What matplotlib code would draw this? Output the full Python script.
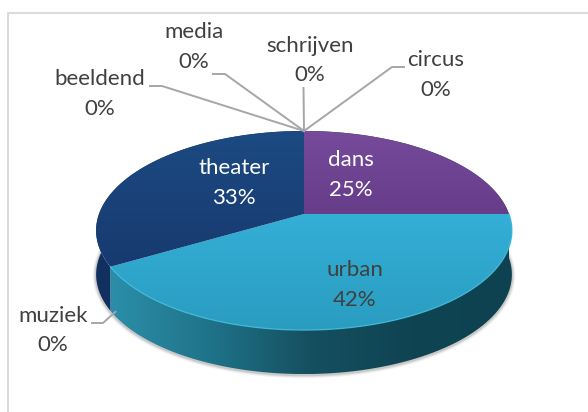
import numpy as np
import matplotlib
matplotlib.use("Agg")
import matplotlib.pyplot as plt
from matplotlib.colors import LinearSegmentedColormap as LSC
from matplotlib.patches import Polygon

# Data (clockwise from 12 o'clock)
categories = ["dans", "urban", "muziek", "theater", "beeldend", "media", "schrijven", "circus"]
counts = [3, 5, 0, 4, 0, 0, 0, 0]

# Styling
plt.rcParams["font.family"] = ["Lato", "DejaVu Sans"]
FS = 16
DARK = "#404040"
CX, CY, RX, A, B, DEPTH = 304.0, 214.0, 205.0, 96.8, 0.166, 44.0

top_grad = {
    "dans": ["#774a9c", "#663d89"],
    "urban": ["#34afd7", "#2a9cc0"],
    "theater": ["#1c4a82", "#173a70"],
}
wall_grad = {
    "dans": ["#0e4250", "#0e4250"],
    "urban": ["#2b8ea9", "#1f7389", "#154f60", "#0f4452", "#0e4250"],
    "theater": ["#12305f", "#14346a"],
}
label_pos = {
    "dans": (351, 160, 190, "white"),
    "urban": (355, 270, 300, DARK),
    "theater": (234, 168, 198, "white"),
    "beeldend": (100, 79, 109, DARK),
    "media": (194, 32, 62, DARK),
    "schrijven": (310, 46, 75, DARK),
    "circus": (436, 60, 90, DARK),
    "muziek": (53, 316, 345, DARK),
}
leaders = {
    "beeldend": [(150, 86), (162, 86)],
    "media": [(213, 74), (225, 74)],
    "schrijven": [(303.5, 88)],
    "circus": [(404, 67), (392, 67)],
}

fig = plt.figure(figsize=(5.88, 4.12), dpi=100)
ax = fig.add_axes([0, 0, 1, 1])
ax.axis("off")


def project(theta):
    """Clockwise angle from top -> perspective pie surface."""
    u, v = np.sin(theta), np.cos(theta)
    d = 1 + B * v
    return CX + RX * u / d, CY - A * v / d


def gradient_fill(xs, ys, colors, horizontal=False):
    poly = Polygon(np.column_stack([xs, ys]), closed=True, transform=ax.transData, fc="none", ec="none")
    ax.add_patch(poly)
    cmap = LSC.from_list("g", colors)
    g = np.linspace(0, 1, 256)
    img = g[None, :] if horizontal else g[:, None]
    extent = (min(xs), max(xs), max(ys), min(ys))
    im = ax.imshow(img, extent=extent, cmap=cmap, aspect="auto", interpolation="bilinear", vmin=0, vmax=1)
    im.set_clip_path(poly)
    return im


total = sum(counts)
edges = np.concatenate([[0], np.cumsum(counts)]) / total * 2 * np.pi

# soft shadow around the base
t = np.linspace(np.radians(70), np.radians(290), 300)
sx, sy = project(t)
for w, a in [(5, 0.06), (3.5, 0.10), (2, 0.18)]:
    ax.plot(sx, sy + DEPTH + 0.8, color="#505050", lw=w, alpha=a, zorder=1, solid_capstyle="round")

# walls
for name, c, a0, a1 in zip(categories, counts, edges[:-1], edges[1:]):
    if c == 0:
        continue
    t = np.linspace(a0, a1, 200)
    x, y = project(t)
    xs = np.r_[x, x[::-1]]
    ys = np.r_[y, y[::-1] + DEPTH]
    im = gradient_fill(xs, ys, wall_grad[name], horizontal=True)
    im.set_zorder(2)

# tops
for name, c, a0, a1 in zip(categories, counts, edges[:-1], edges[1:]):
    if c == 0:
        continue
    t = np.linspace(a0, a1, 200)
    x, y = project(t)
    xs = np.r_[CX, x]
    ys = np.r_[CY, y]
    im = gradient_fill(xs, ys, top_grad[name])
    im.set_zorder(3)
    if name == "urban":
        ax.plot(x, y, color="#3fbbdc", lw=1.0, alpha=0.8, zorder=3.5)

# leader lines
for name, pts in leaders.items():
    p = pts + [(CX, 131)]
    ax.plot(*zip(*p), color="#a6a6a6", lw=1.4, zorder=4, solid_joinstyle="miter")
a_muziek = edges[categories.index("muziek")]
mx, my = project(a_muziek)
ax.plot([92, 103, mx + 5], [323, 323, my + DEPTH + 1], color="#a6a6a6", lw=1.4, zorder=4)

# labels
for name, c in zip(categories, counts):
    x, y1, y2, col = label_pos[name]
    ax.text(x, y1, name, color=col, fontsize=FS, ha="center", va="center", zorder=6)
    ax.text(x, y2, f"{round(100 * c / total)}%", color=col, fontsize=FS, ha="center", va="center", zorder=6)

# chart frame (cropped at right and bottom)
ax.plot([7.5, 7.5, 590], [414, 12.5, 12.5], color="#d9d9d9", lw=1.4, zorder=0)

ax.set_xlim(0, 588)
ax.set_ylim(412, 0)
fig.savefig("out.png", dpi=100)
